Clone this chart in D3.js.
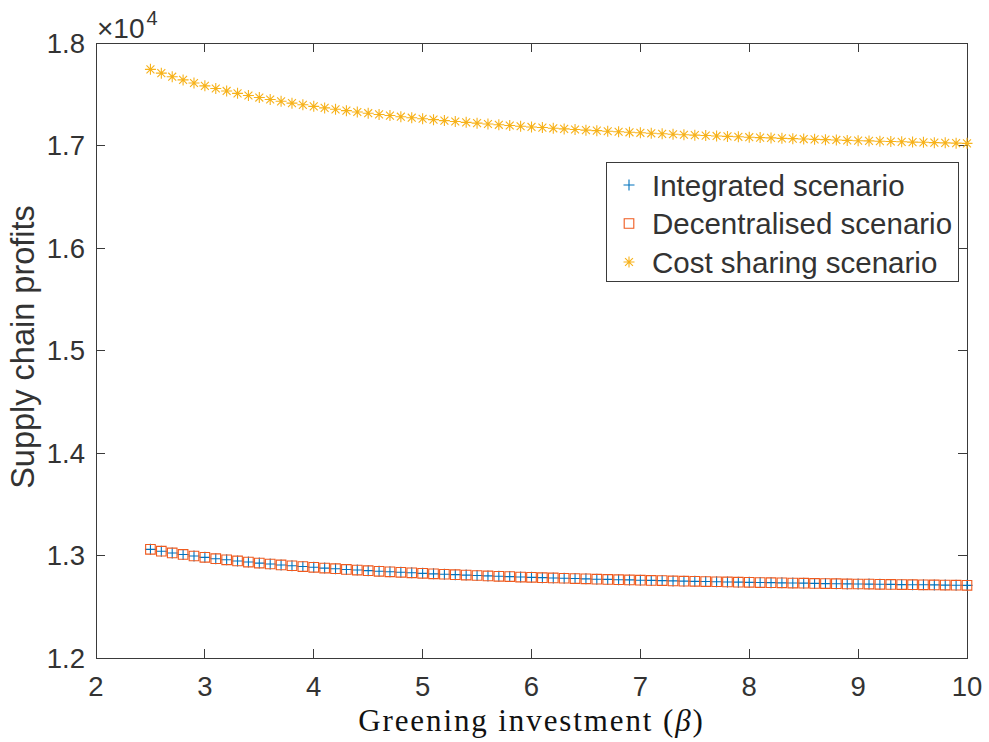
<!DOCTYPE html>
<html>
<head>
<meta charset="utf-8">
<script src="https://cdn.jsdelivr.net/npm/d3@7"></script>
<style>
 body { margin: 0; background: #fff; }
 text { font-family: "Liberation Sans", Arial, sans-serif; fill: #333; }
 .serif { font-family: "Liberation Serif", "Times New Roman", serif; fill: #111; }
</style>
</head>
<body>
<div id="chart"></div>
<script>
// greening investment values (beta)
var beta = [2.5, 2.6, 2.7, 2.8, 2.9, 3.0, 3.1, 3.2, 3.3, 3.4, 3.5, 3.6, 3.7, 3.8, 3.9,
  4.0, 4.1, 4.2, 4.3, 4.4, 4.5, 4.6, 4.7, 4.8, 4.9, 5.0, 5.1, 5.2, 5.3, 5.4, 5.5, 5.6,
  5.7, 5.8, 5.9, 6.0, 6.1, 6.2, 6.3, 6.4, 6.5, 6.6, 6.7, 6.8, 6.9, 7.0, 7.1, 7.2, 7.3,
  7.4, 7.5, 7.6, 7.7, 7.8, 7.9, 8.0, 8.1, 8.2, 8.3, 8.4, 8.5, 8.6, 8.7, 8.8, 8.9, 9.0,
  9.1, 9.2, 9.3, 9.4, 9.5, 9.6, 9.7, 9.8, 9.9, 10.0];

var integrated = [13060, 13042, 13025, 13010, 12995, 12982, 12969, 12958, 12947, 12936,
  12926, 12917, 12908, 12900, 12892, 12885, 12877, 12871, 12864, 12858, 12852, 12846,
  12841, 12836, 12831, 12826, 12821, 12817, 12813, 12809, 12805, 12801, 12797, 12794,
  12790, 12787, 12784, 12781, 12778, 12775, 12772, 12769, 12767, 12764, 12762, 12759,
  12757, 12755, 12752, 12750, 12748, 12746, 12744, 12742, 12740, 12738, 12736, 12735,
  12733, 12731, 12730, 12728, 12726, 12725, 12723, 12722, 12721, 12719, 12718, 12716,
  12715, 12714, 12713, 12711, 12710, 12709];

var decentralised = [13060, 13042, 13025, 13010, 12995, 12982, 12969, 12958, 12947, 12936,
  12926, 12917, 12908, 12900, 12892, 12885, 12877, 12871, 12864, 12858, 12852, 12846,
  12841, 12836, 12831, 12826, 12821, 12817, 12813, 12809, 12805, 12801, 12797, 12794,
  12790, 12787, 12784, 12781, 12778, 12775, 12772, 12769, 12767, 12764, 12762, 12759,
  12757, 12755, 12752, 12750, 12748, 12746, 12744, 12742, 12740, 12738, 12736, 12735,
  12733, 12731, 12730, 12728, 12726, 12725, 12723, 12722, 12721, 12719, 12718, 12716,
  12715, 12714, 12713, 12711, 12710, 12709];

var costSharing = [17743, 17706, 17671, 17640, 17610, 17582, 17556, 17532, 17509, 17488,
  17468, 17449, 17431, 17413, 17397, 17382, 17367, 17353, 17340, 17327, 17315, 17303,
  17292, 17281, 17271, 17261, 17252, 17243, 17234, 17226, 17218, 17210, 17202, 17195,
  17188, 17181, 17175, 17168, 17162, 17156, 17150, 17145, 17139, 17134, 17129, 17124,
  17119, 17114, 17110, 17105, 17101, 17097, 17093, 17089, 17085, 17081, 17077, 17074,
  17070, 17067, 17063, 17060, 17057, 17054, 17050, 17047, 17045, 17042, 17039, 17036,
  17033, 17031, 17028, 17026, 17023, 17021];

var xTicks = [2, 3, 4, 5, 6, 7, 8, 9, 10];
var yTicks = [12000, 13000, 14000, 15000, 16000, 17000, 18000];
var legendLabels = ["Integrated scenario", "Decentralised scenario", "Cost sharing scenario"];

var width = 989, height = 742;
var margin = { top: 43, right: 22, bottom: 84, left: 96 };
var innerW = width - margin.left - margin.right;
var innerH = height - margin.top - margin.bottom;

var svg = d3.select("#chart").append("svg")
  .attr("width", width)
  .attr("height", height);

var g = svg.append("g")
  .attr("transform", "translate(" + margin.left + "," + margin.top + ")");

var x = d3.scaleLinear().domain([2, 10]).range([0, innerW]);
var y = d3.scaleLinear().domain([12000, 18000]).range([innerH, 0]);

var axisColor = "#3a3a3a";
var tickLen = 9;

// box
g.append("rect")
  .attr("width", innerW).attr("height", innerH)
  .attr("fill", "none").attr("stroke", axisColor).attr("stroke-width", 1)
  .attr("shape-rendering", "crispEdges");

// x ticks (bottom + top, pointing inward)
xTicks.forEach(function(t) {
  g.append("line").attr("x1", x(t)).attr("x2", x(t)).attr("y1", innerH).attr("y2", innerH - tickLen)
    .attr("stroke", axisColor).attr("shape-rendering", "crispEdges");
  g.append("line").attr("x1", x(t)).attr("x2", x(t)).attr("y1", 0).attr("y2", tickLen)
    .attr("stroke", axisColor).attr("shape-rendering", "crispEdges");
  g.append("text").attr("x", x(t)).attr("y", innerH + 38)
    .attr("text-anchor", "middle").attr("font-size", 27.5).text(t);
});

yTicks.forEach(function(t) {
  g.append("line").attr("x1", 0).attr("x2", tickLen).attr("y1", y(t)).attr("y2", y(t))
    .attr("stroke", axisColor).attr("shape-rendering", "crispEdges");
  g.append("line").attr("x1", innerW).attr("x2", innerW - tickLen).attr("y1", y(t)).attr("y2", y(t))
    .attr("stroke", axisColor).attr("shape-rendering", "crispEdges");
  g.append("text").attr("x", -11).attr("y", y(t)).attr("dy", "0.36em")
    .attr("text-anchor", "end").attr("font-size", 27.5).text(d3.format(".1f")(t / 10000));
});

// exponent label
var expo = g.append("text").attr("x", 1).attr("y", -5).attr("font-size", 28);
expo.append("tspan").text("\u00d710");
expo.append("tspan").attr("font-size", 20).attr("dy", -13).attr("dx", 2).text("4");

// axis titles
svg.append("text").attr("class", "serif")
  .attr("x", margin.left + innerW / 2).attr("y", 731)
  .attr("text-anchor", "middle").attr("font-size", 31)
  .attr("letter-spacing", 1.9)
  .html("Greening investment (<tspan font-style='italic'>\u03b2</tspan>)");

svg.append("text")
  .attr("transform", "translate(34," + 347 + ") rotate(-90)")
  .attr("text-anchor", "middle").attr("font-size", 32.5)
  .text("Supply chain profits");

var colors = ["#0072BD", "#EF5A1E", "#F7B21A"];

function plusPath(s) { return "M" + (-s) + ",0H" + s + "M0," + (-s) + "V" + s; }
function squarePath(s) { return "M" + (-s) + "," + (-s) + "H" + s + "V" + s + "H" + (-s) + "Z"; }
function starPath(s) {
  var d = plusPath(s);
  var k = s * 0.72;
  d += "M" + (-k) + "," + (-k) + "L" + k + "," + k + "M" + (-k) + "," + k + "L" + k + "," + (-k);
  return d;
}

var series = [
  { name: legendLabels[0], values: integrated, color: colors[0], path: plusPath(5.5) },
  { name: legendLabels[1], values: decentralised, color: colors[1], path: squarePath(4.8) },
  { name: legendLabels[2], values: costSharing, color: colors[2], path: starPath(5.5) }
];

series.forEach(function(s) {
  g.append("g").selectAll("path")
    .data(s.values)
    .enter().append("path")
    .attr("transform", function(d, i) { return "translate(" + x(beta[i]) + "," + y(d) + ")"; })
    .attr("d", s.path)
    .attr("fill", "none")
    .attr("stroke", s.color)
    .attr("stroke-width", 1.1);
});

// legend
var lg = svg.append("g").attr("transform", "translate(606,162)");
lg.append("rect").attr("width", 352).attr("height", 119)
  .attr("fill", "#fff").attr("stroke", axisColor).attr("stroke-width", 1)
  .attr("shape-rendering", "crispEdges");
series.forEach(function(s, i) {
  var cy = 23 + i * 38.5;
  lg.append("path").attr("transform", "translate(23," + cy + ")")
    .attr("d", s.path).attr("fill", "none").attr("stroke", s.color).attr("stroke-width", 1.1);
  lg.append("text").attr("x", 46).attr("y", cy).attr("dy", "0.36em")
    .attr("font-size", 29.5).attr("fill", "#111").text(s.name);
});
</script>
</body>
</html>
